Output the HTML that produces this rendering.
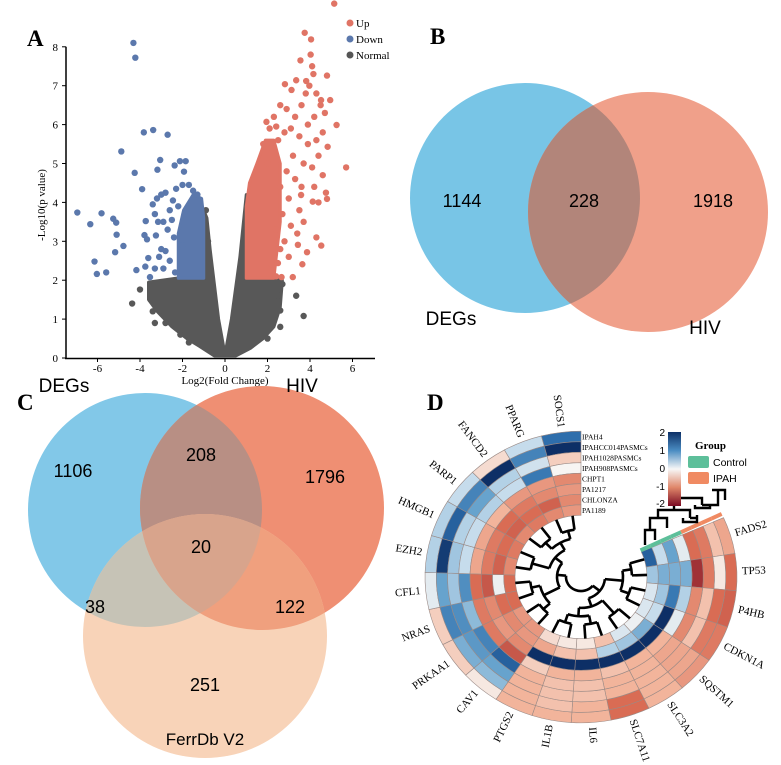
<!DOCTYPE html>
<html><head><meta charset="utf-8"><style>
html,body{margin:0;padding:0;background:#fff;}
svg{display:block;}
.ser{font-family:"Liberation Serif",serif;}
.san{font-family:"Liberation Sans",sans-serif;}
</style></head><body>
<svg id="fig" width="781" height="765" viewBox="0 0 781 765" xmlns="http://www.w3.org/2000/svg">
<defs>
 <clipPath id="cbB"><circle cx="525" cy="198" r="115"/></clipPath>
 <clipPath id="cbC"><circle cx="145" cy="510" r="117"/></clipPath>
 <clipPath id="coC"><circle cx="262" cy="508" r="122"/></clipPath>
 <linearGradient id="cbar" x1="0" y1="0" x2="0" y2="1">
  <stop offset="0" stop-color="#0d2f66"/><stop offset="0.25" stop-color="#4a8cc2"/>
  <stop offset="0.5" stop-color="#f7f7f7"/><stop offset="0.75" stop-color="#e0876a"/>
  <stop offset="1" stop-color="#7a0a22"/>
 </linearGradient>
</defs>

<g id="panelA">
 <text x="27" y="46" class="ser" font-size="23" font-weight="bold">A</text>
 <g id="aNormal"></g>
 <g id="aDown"></g>
 <g id="aUp"></g>
 <g id="aAxes"></g>
 <text x="225" y="384" text-anchor="middle" class="ser" font-size="11">Log2(Fold Change)</text>
 <text transform="translate(45,205) rotate(-90)" text-anchor="middle" class="ser" font-size="11">-Log10(p value)</text>
 <g>
  <circle cx="350" cy="23" r="3.5" fill="#e07465"/>
  <text x="356" y="27" class="ser" font-size="11">Up</text>
  <circle cx="350" cy="39" r="3.5" fill="#5b78ac"/>
  <text x="356" y="43" class="ser" font-size="11">Down</text>
  <circle cx="350" cy="55" r="3.5" fill="#555"/>
  <text x="356" y="59" class="ser" font-size="11">Normal</text>
 </g>
</g>

<g id="panelB">
 <text x="430" y="44" class="ser" font-size="23" font-weight="bold">B</text>
 <circle cx="525" cy="198" r="115" fill="#78c5e6"/>
 <circle cx="648" cy="212" r="120" fill="#f0a08a"/>
 <circle cx="648" cy="212" r="120" fill="#b2857a" clip-path="url(#cbB)"/>
 <text x="462" y="207" text-anchor="middle" class="san" font-size="18">1144</text>
 <text x="584" y="207" text-anchor="middle" class="san" font-size="18">228</text>
 <text x="713" y="207" text-anchor="middle" class="san" font-size="18">1918</text>
 <text x="451" y="325" text-anchor="middle" class="san" font-size="19">DEGs</text>
 <text x="705" y="334" text-anchor="middle" class="san" font-size="19">HIV</text>
</g>

<g id="panelC">
 <text x="17" y="410" class="ser" font-size="23" font-weight="bold">C</text>
 <circle cx="145" cy="510" r="117" fill="#82c8e8"/>
 <circle cx="262" cy="508" r="122" fill="#ef8f73"/>
 <circle cx="205" cy="636" r="122" fill="#f8d3b8"/>
 <circle cx="262" cy="508" r="122" fill="#b88f84" clip-path="url(#cbC)"/>
 <circle cx="205" cy="636" r="122" fill="#c6c3b6" clip-path="url(#cbC)"/>
 <circle cx="205" cy="636" r="122" fill="#f0a07e" clip-path="url(#coC)"/>
 <g clip-path="url(#cbC)"><circle cx="205" cy="636" r="122" fill="#d8a48c" clip-path="url(#coC)"/></g>
 <text x="64" y="392" text-anchor="middle" class="san" font-size="19">DEGs</text>
 <text x="302" y="392" text-anchor="middle" class="san" font-size="19">HIV</text>
 <text x="73" y="477" text-anchor="middle" class="san" font-size="18">1106</text>
 <text x="201" y="461" text-anchor="middle" class="san" font-size="18">208</text>
 <text x="325" y="483" text-anchor="middle" class="san" font-size="18">1796</text>
 <text x="201" y="553" text-anchor="middle" class="san" font-size="18">20</text>
 <text x="95" y="613" text-anchor="middle" class="san" font-size="18">38</text>
 <text x="290" y="613" text-anchor="middle" class="san" font-size="18">122</text>
 <text x="205" y="691" text-anchor="middle" class="san" font-size="18">251</text>
 <text x="205" y="745" text-anchor="middle" class="san" font-size="17">FerrDb V2</text>
</g>

<g id="panelD">
 <text x="427" y="410" class="ser" font-size="23" font-weight="bold">D</text>
 <g id="dHeat"></g>
 <g id="dLabels"></g>
 <g id="dRows"></g>
 <g>
  <rect x="668" y="432" width="13" height="74" fill="url(#cbar)"/>
  <text x="665" y="436" text-anchor="end" class="san" font-size="10">2</text>
  <text x="665" y="454" text-anchor="end" class="san" font-size="10">1</text>
  <text x="665" y="472" text-anchor="end" class="san" font-size="10">0</text>
  <text x="665" y="490" text-anchor="end" class="san" font-size="10">-1</text>
  <text x="665" y="507" text-anchor="end" class="san" font-size="10">-2</text>
 </g>
 <g>
  <text x="695" y="449" class="ser" font-size="11" font-weight="bold">Group</text>
  <rect x="688" y="456" width="21" height="12" rx="2" fill="#5dbf9a"/>
  <text x="713" y="466" class="san" font-size="10.5">Control</text>
  <rect x="688" y="472" width="21" height="12" rx="2" fill="#f08a62"/>
  <text x="713" y="482" class="san" font-size="10.5">IPAH</text>
 </g>
</g>
</svg>
<script>
const downX=[-4.31,-4.22,-3.82,-3.38,-2.7,-4.88,-4.25,-3.05,-3.18,-2.37,-2.12,-1.85,-1.93,-3.9,-6.95,-5.81,-6.34,-5.26,-5.12,-5.1,-4.78,-5.17,-6.14,-6.03,-5.59,-4.17,-3.79,-3.67,-3.73,-3.61,-3.75,-3.53,-3.2,-3.0,-2.8,-3.4,-3.3,-3.15,-2.9,-2.6,-2.5,-3.0,-2.8,-3.1,-3.3,-2.9,-2.6,-2.4,-2.7,-3.25,-2.45,-2.3,-2.0,-1.7,-1.5,-1.3,-2.2,-1.9,-2.35,-2.0];
const downY=[8.1,7.72,5.8,5.86,5.74,5.31,4.76,5.09,4.84,4.95,5.06,5.06,4.79,4.34,3.74,3.72,3.44,3.58,3.48,3.17,2.88,2.72,2.48,2.16,2.2,2.26,3.16,3.05,3.52,2.57,2.35,2.08,4.1,4.2,4.25,3.95,3.7,3.5,3.5,3.8,3.55,2.8,2.75,2.6,2.3,2.3,2.5,3.1,3.3,3.15,4.05,4.35,4.45,4.45,4.3,4.2,3.9,3.7,2.2,2.9];
const downDenseX=[-2.2,-2.2,-1.95,-1.5,-1.1,-1.0,-1.0];
const downDenseY=[2.05,3.2,3.8,4.2,4.1,3.6,2.05];
const upX=[5.14,3.75,4.05,4.03,3.55,4.16,4.8,2.82,3.35,3.82,3.97,3.13,5.25,5.7,4.95,4.52,4.83,4.75,4.8,4.13,4.3,4.53,3.43,3.86,3.64,3.19,2.66,2.49,3.58,1.95,2.41,2.6,2.9,3.3,3.6,3.9,4.2,4.5,4.6,4.3,3.9,3.5,3.1,2.8,2.5,2.2,3.2,3.7,4.1,4.4,4.6,3.3,2.9,2.6,3.0,3.5,4.2,2.7,3.1,3.4,2.8,3.0,2.6,2.4,3.7,4.4,2.3,2.1,3.8,4.1,4.3,4.7,2.0,1.8,3.6,2.2,2.4];
const upY=[9.11,8.36,8.19,7.8,7.65,7.3,7.26,7.04,7.14,7.12,7.0,6.89,5.99,4.9,6.63,6.63,5.43,4.25,4.09,4.02,3.1,2.89,2.91,2.72,2.41,2.08,2.08,2.44,4.19,6.07,5.95,6.5,6.4,6.2,6.5,6.0,6.2,6.5,5.8,5.6,5.5,5.7,5.9,5.8,5.6,5.4,5.2,5.0,4.9,5.2,4.7,4.6,4.8,4.4,4.1,3.8,4.4,3.7,3.4,3.2,3.0,2.6,2.8,3.3,3.5,4.0,6.2,5.9,6.8,7.5,6.8,6.3,5.0,5.5,4.4,2.4,2.1];
const upDenseX=[1.0,1.0,1.15,1.5,1.9,2.3,2.6,2.6,2.3];
const upDenseY=[2.05,3.9,4.5,5.0,5.6,5.6,5.0,3.5,2.05];
const normX=[-4.37,-4.0,-3.4,-3.3,-3.5,-2.8,-2.1,3.35,3.7,2.6,2.6,2.5,2.0,-2.8,-1.7,2.7,-1.2,-0.9,-0.8,1.3];
const normY=[1.4,1.76,1.2,0.9,1.5,0.9,0.6,1.6,1.08,1.22,0.8,1.6,0.5,1.4,0.4,1.9,3.4,3.8,3.0,4.2];
const normEnvX=[-3.6,-2.3,-1.0,-1.0,-0.85,-0.7,-0.3,0,0.3,0.7,1.0,1.05,2.3,2.7,2.6,2.3,1.8,1.2,0.5,-0.5,-1.2,-1.8,-2.5,-3.2,-3.6];
const normEnvY=[1.95,2.05,2.05,3.8,3.6,2.8,1.0,0.1,1.0,2.6,4.2,2.05,2.05,2.0,1.3,0.8,0.5,0.25,0.05,0.05,0.3,0.5,0.8,1.2,1.5];
const xTicks=[-6,-4,-2,0,2,4,6];
const yTicks=[0,1,2,3,4,5,6,7,8];

const NS="http://www.w3.org/2000/svg";
function mk(tag,attrs,parent){const e=document.createElementNS(NS,tag);for(const k in attrs)e.setAttribute(k,attrs[k]);parent.appendChild(e);return e;}
const ax=v=>225+v*21.25;
const ay=v=>358-v*38.9;

function poly(xs,ys,fill,g,name){
  const p=mk('polygon',{points:xs.map((x,i)=>ax(x)+','+ay(ys[i])).join(' '),fill:fill,stroke:fill,'stroke-width':3,'stroke-linejoin':'round'},g);
  
  
}
function pts(xs,ys,fill,g,name){
  xs.forEach((x,i)=>{
    const c=mk('circle',{cx:ax(x),cy:ay(ys[i]),r:3.2,fill:fill},g);
    
    
  });
}
const gN=document.getElementById('aNormal'),gD=document.getElementById('aDown'),gU=document.getElementById('aUp'),gA=document.getElementById('aAxes');
poly(normEnvX,normEnvY,'#585858',gN,'normal-cloud');
pts(normX,normY,'#585858',gN,'normal-point');
poly(downDenseX,downDenseY,'#5b78ac',gD,'down-cloud');
pts(downX,downY,'#5b78ac',gD,'down-point');
poly(upDenseX,upDenseY,'#e07465',gU,'up-cloud');
pts(upX,upY,'#e07465',gU,'up-point');

let l=mk('line',{x1:66,y1:ay(8),x2:66,y2:359,stroke:'#000','stroke-width':1.5},gA);


l=mk('line',{x1:65,y1:358.5,x2:375,y2:358.5,stroke:'#000','stroke-width':1.5},gA);


yTicks.forEach(v=>{
  mk('line',{x1:62,y1:ay(v),x2:66,y2:ay(v),stroke:'#000','stroke-width':1},gA);
  const t=mk('text',{x:58,y:ay(v)+4,'text-anchor':'end','font-size':11,class:'ser'},gA);
  t.textContent=v;
  
  
});
xTicks.forEach(v=>{
  mk('line',{x1:ax(v),y1:358,x2:ax(v),y2:362,stroke:'#000','stroke-width':1},gA);
  const t=mk('text',{x:ax(v),y:372,'text-anchor':'middle','font-size':11,class:'ser'},gA);
  t.textContent=v;
  
  
});

const genes=["FADS2","TP53","P4HB","CDKN1A","SQSTM1","SLC3A2","SLC7A11","IL6","IL1B","PTGS2","CAV1","PRKAA1","NRAS","CFL1","EZH2","HMGB1","PARP1","FANCD2","PPARG","SOCS1"];
const samples=["IPAH4","IPAHCC014PASMCs","IPAH1028PASMCs","IPAH908PASMCs","CHPT1","PA1217","CHLONZA","PA1189"];
const vFADS2=[-0.6,-0.4,-0.9,-1.0,0.2,1.0,0.5,1.6];
const vTP53=[-1.0,-0.1,-0.9,-1.6,0.9,0.9,0.9,0.7];
const vP4HB=[-1.1,-1.0,-0.4,-0.8,0.6,1.4,0.7,0.3];
const vCDKN1A=[-0.9,-0.9,-0.4,-0.8,0.2,2.0,0.5,0.3];
const vSQSTM1=[-0.7,-0.6,-0.6,-0.6,-0.5,2.0,0.9,0.1];
const vSLC3A2=[-0.5,-0.5,-0.5,-0.5,-0.5,2.0,0.7,0.3];
const vSLC7A11=[-1.0,-1.0,-0.5,-0.5,-0.4,2.0,0.6,-0.4];
const vIL6=[-0.5,-0.5,-0.4,-0.4,-0.5,2.0,-0.4,-0.1];
const vIL1B=[-0.5,-0.4,-0.4,-0.4,-0.5,2.0,-0.4,-0.1];
const vPTGS2=[-0.5,-0.5,-0.5,-0.5,-0.3,2.0,-0.6,-0.2];
const vCAV1=[-0.1,0.8,1.0,1.6,-1.2,-0.8,-0.7,-0.7];
const vPRKAA1=[-0.3,0.9,1.1,1.3,-0.9,-0.7,-0.8,-0.7];
const vNRAS=[-0.3,1.3,1.2,0.8,-0.9,-0.8,-1.0,-1.0];
const vCFL1=[0.2,1.0,0.7,1.2,-1.0,-1.2,0.1,-1.0];
const vEZH2=[0.6,1.9,0.7,0.5,-0.6,-0.9,-1.1,-0.8];
const vHMGB1=[0.6,1.6,0.6,0.5,-0.6,-0.9,-1.0,-0.9];
const vPARP1=[0.5,1.3,1.0,0.6,-0.5,-1.0,-1.1,-0.8];
const vFANCD2=[-0.2,2.0,0.6,0.5,-0.7,-0.9,-1.0,-0.9];
const vPPARG=[0.5,1.3,0.4,1.4,-0.7,-0.8,-1.1,-0.8];
const vSOCS1=[1.5,2.0,-0.3,0.0,-0.8,-0.7,-0.8,-0.7];
const values=[vFADS2,vTP53,vP4HB,vCDKN1A,vSQSTM1,vSLC3A2,vSLC7A11,vIL6,vIL1B,vPTGS2,vCAV1,vPRKAA1,vNRAS,vCFL1,vEZH2,vHMGB1,vPARP1,vFANCD2,vPPARG,vSOCS1];
const groups=["IPAH","IPAH","IPAH","IPAH","Control","Control","Control","Control"];
const tree=[[[[0,1],[2,3]],[[4,5],[[6,7],[8,9]]]],[[[10,11],[12,13]],[[14,15],[[16,17],[18,19]]]]];

const CX=581,CY=577,SY=0.935,R_OUT=156,R_IN=66,START=66,END=360;
const ringW=(R_OUT-R_IN)/samples.length;
const secW=(END-START)/genes.length;
function P(r,deg){const a=deg*Math.PI/180;return [CX+r*Math.sin(a),CY-r*Math.cos(a)*SY];}
const stops=[[-2,[122,10,34]],[-1,[217,108,84]],[-0.5,[242,180,155]],[0,[247,245,243]],[0.5,[198,220,236]],[1,[103,163,205]],[1.5,[46,110,172]],[2,[13,47,102]]];
function col(v){v=Math.max(-2,Math.min(2,v));for(let i=0;i<stops.length-1;i++){const[a,ca]=stops[i],[b,cb]=stops[i+1];if(v<=b){const t=(v-a)/(b-a);return 'rgb('+ca.map((c,k)=>Math.round(c+(cb[k]-c)*t)).join(',')+')';}}return 'rgb(13,47,102)';}
function sector(r1,r2,a1,a2){const p1=P(r2,a1),p2=P(r2,a2),p3=P(r1,a2),p4=P(r1,a1);
 return `M${p1}A${r2},${r2*SY} 0 0 1 ${p2}L${p3}A${r1},${r1*SY} 0 0 0 ${p4}Z`;}
const gH=document.getElementById('dHeat');
genes.forEach((g,gi)=>{
  const a1=START+gi*secW,a2=a1+secW;
  samples.forEach((s,si)=>{
    const r2=R_OUT-si*ringW,r1=r2-ringW;
    const p=mk('path',{d:sector(r1,r2,a1,a2),fill:col(values[gi][si]),stroke:'#9a8a86','stroke-width':0.6},gH);
    
    
  });
});
groups.forEach((grp,si)=>{
  const r2=R_OUT-si*ringW,r1=r2-ringW;
  const A=START-1.6;
  const q1=P(r1,A),q2=P(r2,A);
  const b=mk('line',{x1:q1[0],y1:q1[1],x2:q2[0],y2:q2[1],stroke:grp==='IPAH'?'#f08a62':'#5dbf9a','stroke-width':4},gH);
  
  
});
const gL=document.getElementById('dLabels');
genes.forEach((g,gi)=>{
  const a=START+(gi+0.5)*secW;const p=P(R_OUT+5,a);
  const right=a<180;
  const rot=right?a-90:a+90;
  const t=mk('text',{x:p[0],y:p[1],'text-anchor':right?'start':'end','dominant-baseline':'middle','font-size':11,class:'ser',transform:`rotate(${rot} ${p[0]} ${p[1]})`},gL);
  t.textContent=g;
  
  
});
const gR=document.getElementById('dRows');
samples.forEach((s,si)=>{
  const r=R_OUT-(si+0.5)*ringW;
  const t=mk('text',{x:582,y:CY-r*SY+3,'font-size':7.5,class:'ser'},gR);
  t.textContent=s;
  
  
});
function depth(d){return typeof d==='number'?0:1+Math.max(...d.map(depth));}
function build(node){
  if(typeof node==='number') return {ang:START+(node+0.5)*secW,r:R_IN};
  const c=node.map(build);
  const rr=Math.max(R_IN-6-depth(node)*9,14);
  let d='';
  c.forEach(ch=>{const p1=P(ch.r,ch.ang),p2=P(rr,ch.ang);d+=`M${p1}L${p2}`;});
  const p1=P(rr,c[0].ang),p2=P(rr,c[1].ang);
  const big=(c[1].ang-c[0].ang)>180?1:0;
  d+=`M${p1}A${rr},${rr*SY} 0 ${big} 1 ${p2}`;
  const e=mk('path',{d:d,fill:'none',stroke:'#000','stroke-width':2.6},gH);
  
  
  return {ang:(c[0].ang+c[1].ang)/2,r:rr};
}
build(tree);
const sd=mk('path',{d:'M645,545 L645,530 L655,530 L655,540 M650,530 L650,518 L667,518 L667,528 M658,518 L658,510 L690,510 L690,518 M674,510 L674,498 L702,498 L702,505 M683,518 L683,522 L697,522 L697,515 M690,518 L697,518 M695,505 L695,508 L710,508 L710,505 M702,505 L718,505 L718,490 M712,490 L725,490 L725,500',fill:'none',stroke:'#000','stroke-width':2.4},gH);


</script>
</body></html>
